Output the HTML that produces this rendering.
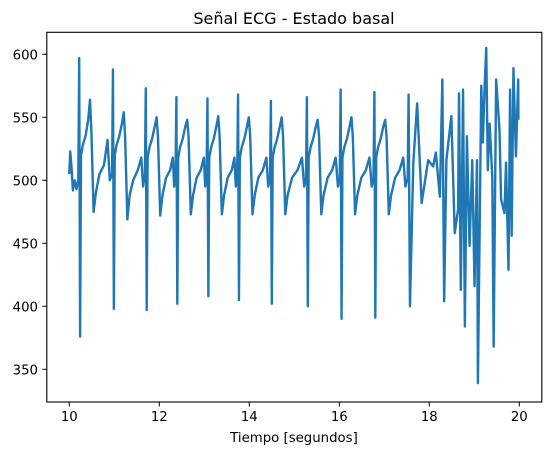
<!DOCTYPE html>
<html><head><meta charset="utf-8"><style>
body{margin:0;background:#fff;}
svg text{font-family:"DejaVu Sans","Liberation Sans",sans-serif;fill:#000;}
</style></head><body>
<svg id="chart" width="552" height="455" xmlns="http://www.w3.org/2000/svg">
<text x="294" y="24" font-size="16" text-anchor="middle">Señal ECG - Estado basal</text>
<g id="plot"></g>
<rect x="46.8" y="32.3" width="495" height="369.7" fill="none" stroke="#000" stroke-width="1.1"/>
<g id="xticks"></g><g id="yticks"></g>
<text x="294" y="442" font-size="13.3" text-anchor="middle">Tiempo [segundos]</text>
</svg>
<script>
const times=[10.00,10.02,10.05,10.08,10.12,10.16,10.20,
10.22,10.24,10.26,10.30,10.36,10.42,10.46,10.49,10.54,10.59,10.67,10.77,10.85,10.90,10.95,
10.97,10.99,11.01,11.05,11.11,11.17,11.21,11.24,11.29,11.34,11.42,11.52,11.60,11.64,11.68,
11.70,11.72,11.74,11.78,11.84,11.90,11.94,11.97,12.02,12.07,12.15,12.24,12.30,12.33,12.36,
12.38,12.40,12.42,12.46,12.52,12.58,12.62,12.65,12.70,12.75,12.83,12.92,12.99,13.02,13.05,
13.07,13.09,13.11,13.15,13.21,13.27,13.31,13.34,13.39,13.44,13.52,13.61,13.67,13.70,13.73,
13.75,13.77,13.79,13.83,13.89,13.95,13.99,14.02,14.07,14.12,14.20,14.30,14.38,14.42,14.46,
14.48,14.50,14.52,14.56,14.62,14.68,14.72,14.75,14.80,14.85,14.95,15.07,15.17,15.22,15.26,
15.28,15.30,15.32,15.36,15.42,15.48,15.52,15.55,15.60,15.65,15.74,15.84,15.92,15.97,16.01,
16.03,16.05,16.07,16.11,16.17,16.23,16.27,16.30,16.35,16.40,16.49,16.59,16.67,16.72,16.76,
16.78,16.80,16.82,16.86,16.92,16.98,17.02,17.05,17.10,17.15,17.24,17.34,17.42,17.47,17.52,
17.54,17.57,17.645,17.73,17.83,17.975,18.085,18.145,18.235,18.29,18.33,18.38,18.49,18.565,18.64,18.66,18.70,18.75,18.79,18.835,18.895,18.955,19.005,19.06,19.08,19.155,19.19,19.23,19.265,19.30,19.34,19.40,19.43,19.485,19.56,19.595,19.67,19.705,19.76,19.795,19.83,19.87,19.925,19.975,19.98];
const values=[505,523,510,492,500,493,500,
597,376,520,528,535,548,564,540,475,490,505,512,532,500,505,
588,398,520,528,535,545,554,535,469,488,500,508,518,495,505,
573,397,518,526,533,543,550,535,472,488,502,508,518,495,502,
566,402,518,526,533,543,548,535,473,488,502,508,518,495,502,
565,408,518,526,533,543,551,535,473,488,502,508,518,495,502,
568,405,518,526,533,543,550,535,473,488,502,508,518,495,502,
563,402,518,526,533,543,550,535,473,488,502,508,518,495,502,
566,400,518,526,533,543,548,535,473,488,502,508,518,495,502,
572,390,518,526,533,543,550,535,473,488,502,508,518,495,502,
570,391,518,526,533,543,548,535,473,488,502,508,518,495,502,
568,400,514,561,482,516,511,522,487,580,404,516,551,458,477,569,413,572,384,535,448,516,416,516,339,575,530,575,605,508,545,503,368,580,540,485,474,514,429,572,456,589,519,580,548];
const xTicks=[10,12,14,16,18,20];
const yTicks=[350,400,450,500,550,600];
const NS="http://www.w3.org/2000/svg";
const X=t=>46.8+(t-9.5)*45;
const Y=v=>54.3+(600-v)*1.26;
const plot=document.getElementById('plot');
let d='';
times.forEach((t,i)=>{d+=(i?'L':'M')+X(t).toFixed(2)+' '+Y(values[i]).toFixed(2);});
const p=document.createElementNS(NS,'path');
p.setAttribute('d',d);p.setAttribute('fill','none');p.setAttribute('stroke','#1f77b4');
p.setAttribute('stroke-width','2.4');p.setAttribute('stroke-linejoin','round');


plot.appendChild(p);
const xg=document.getElementById('xticks');
xTicks.forEach(v=>{
 const l=document.createElementNS(NS,'line');
 l.setAttribute('x1',X(v));l.setAttribute('x2',X(v));l.setAttribute('y1',402);l.setAttribute('y2',406.5);l.setAttribute('stroke','#000');
 
 
 xg.appendChild(l);
 const tx=document.createElementNS(NS,'text');
 tx.setAttribute('x',X(v));tx.setAttribute('y',421);tx.setAttribute('font-size','13.3');tx.setAttribute('text-anchor','middle');
 tx.textContent=v;
 
 
 xg.appendChild(tx);
});
const yg=document.getElementById('yticks');
yTicks.forEach(v=>{
 const l=document.createElementNS(NS,'line');
 l.setAttribute('x1',42.3);l.setAttribute('x2',46.8);l.setAttribute('y1',Y(v));l.setAttribute('y2',Y(v));l.setAttribute('stroke','#000');
 
 
 yg.appendChild(l);
 const tx=document.createElementNS(NS,'text');
 tx.setAttribute('x',38);tx.setAttribute('y',Y(v)+5);tx.setAttribute('font-size','13.3');tx.setAttribute('text-anchor','end');
 tx.textContent=v;
 
 
 yg.appendChild(tx);
});
</script>
</body></html>
